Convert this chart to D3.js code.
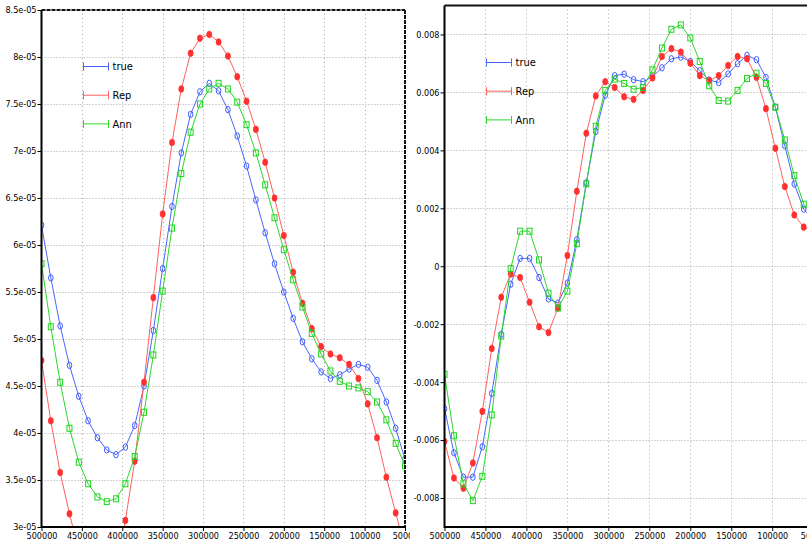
<!DOCTYPE html>
<html><head><meta charset="utf-8">
<script src="https://cdn.jsdelivr.net/npm/d3@7"></script>
<style>
html,body{margin:0;padding:0;background:#fff;}
svg{display:block;}
text{font-family:"Liberation Sans Narrow","Arial Narrow","DejaVu Sans Condensed",sans-serif;font-stretch:condensed;}
</style></head><body>
<svg id="c" width="807" height="547"></svg>
<script>
// ---- data ----
const xValues = [500000,488462,476923,465385,453846,442308,430769,419231,407692,396154,
  384615,373077,361538,350000,338462,326923,315385,303846,292308,280769,
  269231,257692,246154,234615,223077,211538,200000,188462,176923,165385,
  153846,142308,130769,119231,107692,96154,84615,73077,61538,50000];
const seriesNames = ["true","Rep","Ann"];
const seriesColors = ["#3d5cff","#ff3030","#1fd41f"];
const lineColors = ["#4a66ff","#ff5f5f","#2ad82a"];

const leftTrue = [6.21e-5,5.65e-5,5.14e-5,4.72e-5,4.39e-5,4.13e-5,3.95e-5,3.82e-5,3.77e-5,3.85e-5,
  4.08e-5,4.50e-5,5.09e-5,5.75e-5,6.41e-5,6.98e-5,7.39e-5,7.63e-5,7.72e-5,7.64e-5,
  7.44e-5,7.16e-5,6.84e-5,6.48e-5,6.13e-5,5.80e-5,5.50e-5,5.22e-5,4.97e-5,4.79e-5,
  4.65e-5,4.58e-5,4.62e-5,4.68e-5,4.73e-5,4.70e-5,4.56e-5,4.33e-5,4.05e-5,3.72e-5];
const leftRep = [4.77e-5,4.13e-5,3.58e-5,3.14e-5,2.75e-5,2.45e-5,2.30e-5,2.30e-5,2.50e-5,3.07e-5,
  3.70e-5,4.54e-5,5.44e-5,6.33e-5,7.09e-5,7.66e-5,8.04e-5,8.20e-5,8.24e-5,8.16e-5,
  8.01e-5,7.79e-5,7.53e-5,7.23e-5,6.88e-5,6.50e-5,6.10e-5,5.71e-5,5.38e-5,5.11e-5,
  4.92e-5,4.84e-5,4.80e-5,4.73e-5,4.58e-5,4.31e-5,3.95e-5,3.53e-5,3.15e-5,2.78e-5];
const leftAnn = [5.80e-5,5.13e-5,4.54e-5,4.05e-5,3.69e-5,3.46e-5,3.32e-5,3.27e-5,3.30e-5,3.46e-5,
  3.75e-5,4.22e-5,4.83e-5,5.51e-5,6.18e-5,6.76e-5,7.20e-5,7.50e-5,7.66e-5,7.72e-5,
  7.66e-5,7.52e-5,7.28e-5,6.98e-5,6.64e-5,6.29e-5,5.95e-5,5.63e-5,5.34e-5,5.06e-5,
  4.84e-5,4.66e-5,4.55e-5,4.50e-5,4.48e-5,4.44e-5,4.33e-5,4.14e-5,3.89e-5,3.65e-5];

const rightTrue = [-0.00492,-0.00644,-0.00728,-0.00728,-0.00623,-0.00439,-0.00235,-0.00062,0.00027,0.00027,
  -0.00039,-0.00113,-0.00127,-0.00058,0.00092,0.00288,0.00465,0.00590,0.00658,0.00663,
  0.00644,0.00637,0.00654,0.00685,0.00716,0.00722,0.00707,0.00675,0.00643,0.00634,
  0.00664,0.00699,0.00728,0.00713,0.00652,0.00549,0.00416,0.00284,0.00197,0.00160];
const rightRep = [-0.00605,-0.00731,-0.00766,-0.00679,-0.00501,-0.00284,-0.00107,-0.00027,-0.00039,-0.00124,
  -0.00209,-0.00229,-0.00144,0.00037,0.00259,0.00459,0.00588,0.00637,0.00617,0.00585,
  0.00576,0.00607,0.00650,0.00724,0.00751,0.00739,0.00701,0.00658,0.00640,0.00658,
  0.00693,0.00724,0.00716,0.00652,0.00544,0.00407,0.00275,0.00177,0.00135,0.00120];
const rightAnn = [-0.00373,-0.00585,-0.00751,-0.00809,-0.00725,-0.00513,-0.00241,-0.00008,0.00121,0.00121,
  0.00022,-0.00093,-0.00144,-0.00086,0.00078,0.00284,0.00483,0.00607,0.00646,0.00631,
  0.00611,0.00617,0.00678,0.00753,0.00818,0.00833,0.00788,0.00707,0.00623,0.00572,
  0.00570,0.00607,0.00648,0.00666,0.00631,0.00549,0.00436,0.00313,0.00214,0.00180];

const xTicks = [500000,450000,400000,350000,300000,250000,200000,150000,100000,50000];
const leftYTicks = [8.5e-5,8e-5,7.5e-5,7e-5,6.5e-5,6e-5,5.5e-5,5e-5,4.5e-5,4e-5,3.5e-5,3e-5];
const leftYLabels = ["8.5e-05","8e-05","7.5e-05","7e-05","6.5e-05","6e-05","5.5e-05","5e-05","4.5e-05","4e-05","3.5e-05","3e-05"];
const rightYTicks = [0.008,0.006,0.004,0.002,0,-0.002,-0.004,-0.006,-0.008];
const rightYLabels = ["0.008","0.006","0.004","0.002","0","-0.002","-0.004","-0.006","-0.008"];

// ---- drawing ----
const svg = d3.select("#c");
svg.append("rect").attr("width",807).attr("height",547).attr("fill","#fff");
const defs = svg.append("defs");

function panel(cfg){
  const {id, x, y, yTicks, yLabels, data, outerClip, legendX, legendY, frameDashed} = cfg;
  const [x0,x1] = x.range();
  const [y1,y0] = y.range();
  defs.append("clipPath").attr("id",id+"outer").append("rect")
    .attr("x",outerClip[0]).attr("y",0).attr("width",outerClip[1]-outerClip[0]).attr("height",547);
  defs.append("clipPath").attr("id",id+"plot").append("rect")
    .attr("x",x0).attr("y",y0).attr("width",x1-x0).attr("height",y1-y0);
  const g = svg.append("g").attr("clip-path",`url(#${id}outer)`);

  // grid
  const grid = g.append("g");
  grid.selectAll("line.v").data(xTicks.slice(1,-1)).join("line")
    .attr("x1",d=>Math.round(x(d))+0.5).attr("x2",d=>Math.round(x(d))+0.5)
    .attr("y1",y0).attr("y2",y1)
    .attr("stroke","#a8a8a8").attr("stroke-width",1).attr("stroke-dasharray","1,3");
  grid.selectAll("line.h").data(yTicks.filter(d=>y(d)>y0+2 && y(d)<y1-2)).join("line")
    .attr("y1",d=>Math.round(y(d))+0.5).attr("y2",d=>Math.round(y(d))+0.5)
    .attr("x1",x0).attr("x2",x1)
    .attr("stroke","#a8a8a8").attr("stroke-width",1).attr("stroke-dasharray","1,2");

  // series
  const pg = g.append("g").attr("clip-path",`url(#${id}plot)`);
  const line = d3.line().x((d,i)=>x(xValues[i])).y(d=>y(d));
  data.forEach((vals,si)=>{
    const col = seriesColors[si];
    pg.append("path").datum(vals).attr("d",line)
      .attr("fill","none").attr("stroke",lineColors[si]).attr("stroke-width",1);
    const pts = pg.append("g");
    if(si===0){
      pts.selectAll("ellipse").data(vals).join("ellipse")
        .attr("cx",(d,i)=>x(xValues[i])).attr("cy",d=>y(d))
        .attr("rx",2.3).attr("ry",3.2).attr("fill","#fff").attr("fill-opacity",0).attr("stroke",col).attr("stroke-width",1);
    } else if(si===1){
      pts.selectAll("ellipse").data(vals).join("ellipse")
        .attr("cx",(d,i)=>x(xValues[i])).attr("cy",d=>y(d))
        .attr("rx",2.5).attr("ry",3.3).attr("fill",col).attr("stroke",col).attr("stroke-width",0.8);
    } else {
      pts.selectAll("rect").data(vals).join("rect")
        .attr("x",(d,i)=>x(xValues[i])-2.5).attr("y",d=>y(d)-3)
        .attr("width",5).attr("height",6).attr("fill","none").attr("stroke",col).attr("stroke-width",1);
    }
  });

  // axes
  const ya = g.append("g").attr("transform",`translate(${x0},0)`)
    .call(d3.axisLeft(y).tickValues(yTicks).tickFormat((d,i)=>yLabels[i]).tickSize(4).tickPadding(1).tickSizeOuter(0));
  ya.select(".domain").remove();
  ya.selectAll("text").attr("font-size",9).attr("fill","#000").style("font-family",null);
  const xa = g.append("g").attr("transform",`translate(0,${y1})`)
    .call(d3.axisBottom(x).tickValues(xTicks).tickFormat(d3.format("d")).tickSize(4).tickPadding(2).tickSizeOuter(0));
  xa.select(".domain").remove();
  xa.selectAll("text").attr("font-size",9).attr("fill","#000").style("font-family",null);
  g.selectAll(".tick line").attr("stroke","#000");

  // frame
  g.append("line").attr("x1",x0).attr("x2",x0).attr("y1",y0).attr("y2",y1+1)
    .attr("stroke","#000").attr("stroke-width",2);
  g.append("line").attr("x1",x0).attr("x2",x1).attr("y1",y1).attr("y2",y1)
    .attr("stroke","#000").attr("stroke-width",2);
  g.append("line").attr("x1",x0).attr("x2",x1).attr("y1",y0).attr("y2",y0)
    .attr("stroke","#111").attr("stroke-width",2).attr("stroke-dasharray",frameDashed?"4,1":null);
  if(frameDashed){
    g.append("line").attr("x1",x1).attr("x2",x1).attr("y1",y0).attr("y2",y1)
      .attr("stroke","#111").attr("stroke-width",2).attr("stroke-dasharray","4,1");
  }

  // legend
  const lg = g.append("g");
  seriesNames.forEach((n,i)=>{
    const ly = legendY + i*28.7;
    const col = lineColors[i];
    lg.append("line").attr("x1",legendX).attr("x2",legendX+25).attr("y1",ly).attr("y2",ly)
      .attr("stroke",col).attr("stroke-width",1);
    [legendX,legendX+25].forEach(px=>{
      lg.append("line").attr("x1",px).attr("x2",px).attr("y1",ly-4).attr("y2",ly+4)
        .attr("stroke",col).attr("stroke-width",1);
    });
    lg.append("text").attr("x",legendX+29).attr("y",ly).attr("dy","0.35em")
      .attr("font-size",11).attr("fill","#000").text(n);
  });
}

panel({
  id:"L",
  x: d3.scaleLinear().domain([500000,50000]).range([41.5,405]),
  y: d3.scaleLinear().domain([3e-5,8.5e-5]).range([527,10]),
  yTicks:leftYTicks, yLabels:leftYLabels,
  data:[leftTrue,leftRep,leftAnn],
  outerClip:[0,410], legendX:83.5, legendY:66.5, frameDashed:true
});
panel({
  id:"R",
  x: d3.scaleLinear().domain([500000,50000]).range([444.5,813.2]),
  y: d3.scaleLinear().domain([-0.009,0.009]).range([527,5.5]),
  yTicks:rightYTicks, yLabels:rightYLabels,
  data:[rightTrue,rightRep,rightAnn],
  outerClip:[410,807], legendX:486.5, legendY:62.5, frameDashed:false
});
</script>
</body></html>
